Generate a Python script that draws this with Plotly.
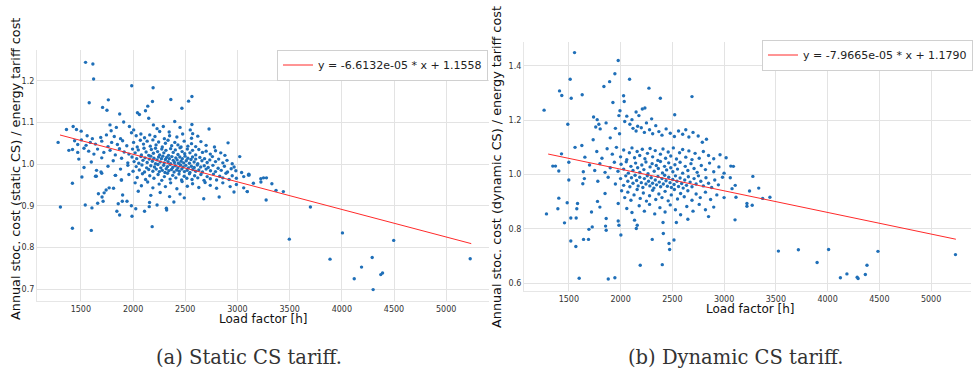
import plotly.graph_objects as go

# ---------------- data ----------------
# Panel (a): static CS tariff  -> (load factor [h], cost ratio)
static_upper = [
    (1545, 1.244), (1615, 1.240), (1622, 1.204), (1987, 1.188), (2192, 1.183),
    (1580, 1.147), (2362, 1.155), (2564, 1.162), (2532, 1.151), (2186, 1.150),
    (1763, 1.154), (1708, 1.136), (1750, 1.129), (2141, 1.139), (2119, 1.128),
    (2468, 1.134), (1872, 1.120), (2042, 1.123), (2061, 1.119), (2150, 1.110),
    (2399, 1.102), (1910, 1.101), (1779, 1.094), (1965, 1.090), (2006, 1.082),
    (2195, 1.094), (2564, 1.095), (2728, 1.084), (2548, 1.082), (2571, 1.073),
    (2346, 1.077), (1362, 1.083), (1426, 1.090), (1458, 1.083), (1503, 1.079),
    (1282, 1.052), (1385, 1.033), (2910, 1.051), (3022, 1.018), (3109, 0.976),
    (1440, 1.056), (1470, 1.047), (1790, 1.080), (1840, 1.088), (2230, 1.085),
    (2290, 1.090), (2450, 1.088),
]
static_core = [
    (1985, 1.075), (2030, 1.068), (2075, 1.072), (2110, 1.063), (2160, 1.070),
    (2210, 1.066), (2255, 1.078), (2300, 1.061), (2350, 1.068), (2420, 1.065),
    (2475, 1.072), (2560, 1.062), (2620, 1.067), (1690, 1.064), (1745, 1.070),
    (1820, 1.066), (1880, 1.061), (1560, 1.068), (1610, 1.061),
    (1505, 1.058), (1550, 1.045), (1590, 1.052), (1640, 1.048), (1700, 1.055),
    (1760, 1.042), (1795, 1.052), (1850, 1.047), (1900, 1.056), (1940, 1.044),
    (2005, 1.052), (2040, 1.041), (2070, 1.057), (2100, 1.048), (2135, 1.055),
    (2165, 1.043), (2190, 1.058), (2220, 1.046), (2245, 1.053), (2280, 1.041),
    (2310, 1.050), (2335, 1.057), (2370, 1.044), (2400, 1.052), (2430, 1.046),
    (2460, 1.041), (2490, 1.055), (2525, 1.043), (2560, 1.049), (2600, 1.042),
    (2650, 1.054), (2700, 1.045), (2780, 1.041),
    (1420, 1.035), (1470, 1.028), (1530, 1.038), (1575, 1.031), (1625, 1.024),
    (1660, 1.036), (1720, 1.028), (1780, 1.033), (1830, 1.022), (1870, 1.037),
    (1915, 1.029), (1960, 1.024), (1995, 1.036), (2020, 1.027), (2050, 1.034),
    (2080, 1.022), (2105, 1.038), (2125, 1.029), (2150, 1.021), (2175, 1.035),
    (2195, 1.026), (2215, 1.038), (2235, 1.030), (2255, 1.022), (2275, 1.036),
    (2295, 1.027), (2315, 1.033), (2340, 1.021), (2360, 1.037), (2385, 1.028),
    (2405, 1.034), (2430, 1.023), (2450, 1.039), (2470, 1.030), (2495, 1.025),
    (2520, 1.036), (2545, 1.027), (2570, 1.033), (2600, 1.022), (2630, 1.035),
    (2665, 1.028), (2700, 1.031), (2740, 1.024), (2790, 1.032), (2840, 1.027),
    (2880, 1.021),
    (1480, 1.012), (1600, 1.005), (1700, 1.015), (1810, 1.008), (1890, 1.014),
    (1950, 1.003), (1990, 1.017), (2010, 1.006), (2035, 1.013), (2055, 1.002),
    (2075, 1.018), (2095, 1.009), (2115, 1.015), (2135, 1.004), (2155, 1.012),
    (2170, 1.019), (2185, 1.007), (2200, 1.014), (2215, 1.001), (2230, 1.010),
    (2245, 1.017), (2260, 1.005), (2272, 1.013), (2285, 1.019), (2298, 1.003),
    (2310, 1.011), (2322, 1.016), (2335, 1.006), (2348, 1.013), (2360, 1.001),
    (2372, 1.018), (2385, 1.009), (2397, 1.004), (2410, 1.015), (2422, 1.010),
    (2435, 1.002), (2448, 1.017), (2460, 1.007), (2472, 1.013), (2485, 1.003),
    (2498, 1.019), (2510, 1.008), (2525, 1.014), (2540, 1.002), (2555, 1.011),
    (2570, 1.017), (2585, 1.005), (2600, 1.012), (2620, 1.001), (2640, 1.016),
    (2660, 1.008), (2685, 1.013), (2710, 1.004), (2735, 1.010), (2760, 1.018),
    (2790, 1.006), (2820, 1.012), (2860, 1.003), (2900, 1.009), (2950, 1.001),
    (2968, 0.993),
    (1530, 0.992), (1650, 0.985), (1760, 0.995), (1880, 0.988), (1950, 0.997),
    (2000, 0.983), (2030, 0.994), (2060, 0.986), (2085, 0.998), (2110, 0.981),
    (2130, 0.991), (2150, 0.987), (2170, 0.996), (2190, 0.983), (2205, 0.993),
    (2222, 0.988), (2238, 0.999), (2252, 0.982), (2266, 0.991), (2280, 0.985),
    (2293, 0.997), (2306, 0.980), (2318, 0.989), (2330, 0.994), (2343, 0.984),
    (2355, 0.999), (2368, 0.987), (2380, 0.992), (2393, 0.981), (2405, 0.996),
    (2418, 0.986), (2430, 0.991), (2443, 0.983), (2455, 0.998), (2467, 0.988),
    (2480, 0.993), (2492, 0.982), (2505, 0.997), (2518, 0.985), (2530, 0.991),
    (2545, 0.980), (2558, 0.995), (2572, 0.987), (2586, 0.992), (2600, 0.983),
    (2615, 0.998), (2630, 0.986), (2648, 0.993), (2665, 0.981), (2682, 0.996),
    (2700, 0.988), (2720, 0.992), (2742, 0.984), (2765, 0.997), (2790, 0.982),
    (2815, 0.990), (2845, 0.985), (2875, 0.995), (2905, 0.981), (2940, 0.989),
    (2985, 0.984), (3040, 0.980),
    (1640, 0.971), (1700, 0.978), (1830, 0.973), (1890, 0.962), (1960, 0.975),
    (2040, 0.968), (2090, 0.977), (2120, 0.963), (2160, 0.972), (2200, 0.966),
    (2240, 0.975), (2275, 0.961), (2300, 0.970), (2330, 0.978), (2355, 0.964),
    (2380, 0.973), (2410, 0.967), (2440, 0.976), (2465, 0.962), (2490, 0.971),
    (2515, 0.966), (2540, 0.977), (2565, 0.963), (2590, 0.972), (2620, 0.967),
    (2650, 0.975), (2680, 0.961), (2710, 0.970), (2740, 0.965), (2770, 0.976),
    (2800, 0.962), (2830, 0.971), (2860, 0.967), (2890, 0.978), (2920, 0.963),
    (2950, 0.972), (2990, 0.966), (3060, 0.970), (3105, 0.974), (3112, 0.974),
    (3153, 0.954), (3225, 0.957), (3250, 0.967), (3278, 0.967), (3224, 0.965),
    (1419, 0.954), (1510, 0.969), (1648, 0.971), (1693, 0.981), (1832, 0.973),
    (1887, 0.962), (2020, 0.955), (2080, 0.948), (2140, 0.957), (2190, 0.943),
    (2250, 0.952), (2310, 0.946), (2360, 0.955), (2420, 0.941), (2470, 0.958),
    (2520, 0.947), (2570, 0.953), (2630, 0.944), (2690, 0.956), (2740, 0.949),
    (2800, 0.942), (2860, 0.955), (2930, 0.946), (2990, 0.951), (3060, 0.943),
    (3094, 0.934),
    (1668, 0.929), (1723, 0.931), (1742, 0.938), (1771, 0.943), (1813, 0.942),
    (1900, 0.926), (2050, 0.935), (2170, 0.925), (2260, 0.932), (2350, 0.922),
    (2450, 0.928), (2491, 0.919), (2677, 0.917), (2825, 0.921), (2967, 0.933),
    (3330, 0.953), (3370, 0.937), (3440, 0.934), (3275, 0.914),
]
static_lower = [
    (1304, 0.897), (1419, 0.846), (1600, 0.841), (2183, 0.850), (1542, 0.902),
    (1606, 0.895), (1661, 0.906), (1713, 0.911), (1703, 0.921), (1845, 0.887),
    (1871, 0.878), (1858, 0.905), (1897, 0.911), (1942, 0.911), (1990, 0.875),
    (1984, 0.900), (2026, 0.893), (2110, 0.887), (2158, 0.908), (2155, 0.898),
    (2230, 0.902), (2319, 0.894), (2322, 0.890), (2391, 0.909), (3094, 0.934),
    (3699, 0.897), (3497, 0.820), (4006, 0.835), (4497, 0.817), (3887, 0.772),
    (4291, 0.776), (4189, 0.753), (4119, 0.725), (4300, 0.699), (4373, 0.735),
    (4390, 0.739), (5230, 0.773),
]

# Panel (b): dynamic CS tariff
dynamic_upper = [
    (1261, 1.237), (1555, 1.449), (1977, 1.420), (1513, 1.351), (1410, 1.308),
    (1432, 1.291), (1523, 1.281), (1629, 1.294), (1945, 1.371), (1894, 1.342),
    (1839, 1.324), (2087, 1.351), (2274, 1.318), (2384, 1.281), (2690, 1.287),
    (1490, 1.185), (2029, 1.290), (2035, 1.269), (1994, 1.235), (1984, 1.217),
    (2110, 1.202), (2177, 1.217), (2210, 1.241), (2235, 1.245), (2523, 1.220),
    (1926, 1.265), (1739, 1.212), (1774, 1.202), (1803, 1.168), (1626, 1.107),
    (1655, 1.064), (1735, 1.128), (1429, 1.076), (1345, 1.031), (1371, 1.031),
    (1403, 1.013), (3065, 1.031), (3090, 1.030), (2790, 1.119), (2961, 1.073),
    (1790, 1.185), (1760, 1.175), (2060, 1.215), (2150, 1.230), (2300, 1.205),
]
dynamic_core = [
    (2040, 1.195), (2090, 1.185), (2120, 1.170), (2150, 1.160), (2165, 1.178),
    (2200, 1.172), (2230, 1.155), (2250, 1.190), (2280, 1.165), (2310, 1.150),
    (2340, 1.180), (2370, 1.158), (2400, 1.145), (2440, 1.168), (2480, 1.152),
    (2520, 1.140), (2560, 1.160), (2600, 1.148), (2630, 1.165), (2660, 1.138),
    (2700, 1.155), (2750, 1.142), (2830, 1.130), (1950, 1.170), (1990, 1.150),
    (1900, 1.135), (1860, 1.190),
    (1560, 1.100), (1770, 1.085), (1820, 1.060), (1870, 1.095), (1920, 1.075),
    (1960, 1.100), (2000, 1.065), (2030, 1.090), (2060, 1.055), (2085, 1.080),
    (2110, 1.098), (2135, 1.062), (2160, 1.085), (2185, 1.070), (2210, 1.093),
    (2235, 1.058), (2260, 1.078), (2285, 1.096), (2310, 1.065), (2335, 1.088),
    (2360, 1.052), (2385, 1.075), (2410, 1.094), (2435, 1.060), (2460, 1.083),
    (2485, 1.068), (2510, 1.098), (2540, 1.057), (2570, 1.080), (2600, 1.092),
    (2630, 1.064), (2660, 1.087), (2690, 1.055), (2720, 1.078), (2760, 1.060),
    (2800, 1.085), (2850, 1.070), (2900, 1.058), (3020, 1.062),
    (1500, 1.045), (1640, 1.010), (1700, 1.035), (1750, 1.015), (1800, 1.040),
    (1850, 1.008), (1900, 1.025), (1940, 1.045), (1975, 1.012), (2005, 1.038),
    (2030, 1.020), (2055, 1.047), (2075, 1.005), (2100, 1.030), (2120, 1.015),
    (2145, 1.042), (2165, 1.025), (2185, 1.008), (2205, 1.035), (2225, 1.018),
    (2245, 1.046), (2265, 1.003), (2285, 1.028), (2305, 1.040), (2325, 1.012),
    (2345, 1.033), (2365, 1.022), (2385, 1.048), (2405, 1.006), (2425, 1.030),
    (2445, 1.017), (2465, 1.043), (2485, 1.025), (2505, 1.010), (2525, 1.036),
    (2550, 1.020), (2575, 1.045), (2600, 1.005), (2625, 1.030), (2650, 1.015),
    (2680, 1.040), (2710, 1.022), (2740, 1.008), (2780, 1.033), (2820, 1.018),
    (2860, 1.042), (2900, 1.010), (2950, 1.028), (3000, 1.005),
    (1500, 0.980), (1650, 0.985), (1780, 0.975), (1880, 0.990), (1950, 0.965),
    (2000, 0.985), (2030, 0.960), (2050, 0.995), (2070, 0.975), (2090, 0.955),
    (2105, 0.988), (2120, 0.968), (2140, 0.997), (2155, 0.978), (2170, 0.958),
    (2185, 0.990), (2200, 0.970), (2215, 0.952), (2230, 0.985), (2245, 0.965),
    (2258, 0.995), (2270, 0.975), (2283, 0.958), (2296, 0.988), (2309, 0.968),
    (2322, 0.950), (2335, 0.980), (2348, 0.962), (2361, 0.993), (2374, 0.972),
    (2387, 0.955), (2400, 0.985), (2413, 0.965), (2426, 0.997), (2439, 0.977),
    (2452, 0.957), (2465, 0.990), (2478, 0.970), (2491, 0.952), (2504, 0.982),
    (2517, 0.963), (2530, 0.995), (2545, 0.975), (2560, 0.956), (2575, 0.987),
    (2590, 0.967), (2605, 0.950), (2620, 0.980), (2637, 0.960), (2655, 0.992),
    (2672, 0.972), (2690, 0.955), (2710, 0.985), (2730, 0.965), (2752, 0.995),
    (2775, 0.975), (2800, 0.958), (2825, 0.988), (2850, 0.968), (2880, 0.952),
    (2910, 0.980), (2945, 0.962), (2985, 0.990), (3060, 0.988), (3108, 0.960),
    (3077, 0.948), (3278, 0.993), (3335, 0.950), (3246, 0.939),
    (1403, 0.913), (1484, 0.896), (1584, 0.893), (1635, 0.966), (1777, 0.901),
    (1850, 0.930), (1977, 0.893), (2010, 0.940), (2040, 0.915), (2070, 0.935),
    (2100, 0.905), (2130, 0.925), (2160, 0.945), (2190, 0.912), (2220, 0.932),
    (2250, 0.902), (2280, 0.922), (2310, 0.942), (2340, 0.908), (2370, 0.928),
    (2400, 0.915), (2430, 0.938), (2460, 0.903), (2490, 0.925), (2520, 0.945),
    (2550, 0.910), (2580, 0.930), (2615, 0.918), (2650, 0.940), (2690, 0.905),
    (2730, 0.928), (2770, 0.915), (2820, 0.935), (2870, 0.908), (2930, 0.925),
    (3000, 0.915), (3115, 0.916), (3373, 0.912), (3443, 0.916),
    (1284, 0.855), (1394, 0.874), (1519, 0.840), (1571, 0.840), (1577, 0.874),
    (1719, 0.862), (1800, 0.880), (1861, 0.838), (1977, 0.829), (2060, 0.875),
    (2135, 0.832), (2110, 0.860), (2180, 0.885), (2230, 0.865), (2280, 0.890),
    (2330, 0.855), (2380, 0.878), (2430, 0.862), (2480, 0.888), (2530, 0.870),
    (2580, 0.852), (2640, 0.882), (2700, 0.865), (2760, 0.890), (2820, 0.870),
    (2900, 0.880), (3221, 0.893), (3221, 0.883), (3272, 0.887),
]
dynamic_lower = [
    (1458, 0.822), (1519, 0.755), (1568, 0.735), (1600, 0.618), (1642, 0.761),
    (1690, 0.761), (1694, 0.798), (1726, 0.807), (1855, 0.810), (1861, 0.795),
    (1881, 0.615), (1945, 0.620), (1984, 0.813), (2003, 0.777), (2152, 0.801),
    (2161, 0.813), (2190, 0.666), (2306, 0.761), (2403, 0.668), (2410, 0.823),
    (2413, 0.783), (2468, 0.746), (2474, 0.724), (2516, 0.759), (2539, 0.823),
    (3106, 0.833), (2650, 0.835), (2850, 0.845),
    (3525, 0.718), (3718, 0.723), (4010, 0.724), (3899, 0.676), (4487, 0.717),
    (4187, 0.634), (4124, 0.620), (4286, 0.622), (4295, 0.617), (4365, 0.632),
    (4381, 0.666), (5236, 0.705),
]

static_fit_x = [1300, 5240]
static_fit_y = [1.0698, 0.8093]
static_fit_label = "y = -6.6132e-05 * x + 1.1558"
dynamic_fit_x = [1300, 5240]
dynamic_fit_y = [1.0754, 0.7616]
dynamic_fit_label = "y = -7.9665e-05 * x + 1.1790"

x_ticks = [1500, 2000, 2500, 3000, 3500, 4000, 4500, 5000]
static_y_ticks = [0.7, 0.8, 0.9, 1.0, 1.1, 1.2]
dynamic_y_ticks = [0.6, 0.8, 1.0, 1.2, 1.4]

x_title = "Load factor [h]"
static_y_title = "Annual stoc. cost (static CS) / energy tariff cost"
dynamic_y_title = "Annual stoc. cost (dynamic CS) / energy tariff cost"
captions = ["(a) Static CS tariff.", "(b) Dynamic CS tariff."]

# ---------------- figure ----------------
W, H = 973, 371
BLUE = "#1f6fb8"
GRID = "#e3e3e3"
TICKFONT = dict(family="DejaVu Sans", size=8, color="#333333")


def unzip(*groups):
    xs, ys = [], []
    for g in groups:
        for x, y in g:
            xs.append(x)
            ys.append(y)
    return xs, ys


sx, sy = unzip(static_upper, static_core, static_lower)
dx, dy = unzip(dynamic_upper, dynamic_core, dynamic_lower)

fig = go.Figure()
fig.add_trace(go.Scatter(x=sx, y=sy, mode="markers", xaxis="x", yaxis="y",
                         marker=dict(size=3.4, color=BLUE, line=dict(width=0)),
                         showlegend=False))
fig.add_trace(go.Scatter(x=static_fit_x, y=static_fit_y, mode="lines",
                         xaxis="x", yaxis="y", name=static_fit_label,
                         line=dict(color="#ff2a2a", width=1), legend="legend"))
fig.add_trace(go.Scatter(x=dx, y=dy, mode="markers", xaxis="x2", yaxis="y2",
                         marker=dict(size=3.4, color=BLUE, line=dict(width=0)),
                         showlegend=False))
fig.add_trace(go.Scatter(x=dynamic_fit_x, y=dynamic_fit_y, mode="lines",
                         xaxis="x2", yaxis="y2", name=dynamic_fit_label,
                         line=dict(color="#ff2a2a", width=1), legend="legend2"))


def px_x(p):
    return p / W


def px_y(p):
    return 1 - p / H


axis_common = dict(showgrid=True, gridcolor=GRID, gridwidth=1, zeroline=False,
                   showline=True, linecolor="#e6e6e6", linewidth=1,
                   ticks="", tickfont=TICKFONT, mirror=False)

legend_font = dict(family="DejaVu Sans", size=11, color="#222222")

fig.update_layout(
    width=W, height=H, margin=dict(l=0, r=0, t=0, b=0),
    paper_bgcolor="white", plot_bgcolor="white",
    xaxis=dict(domain=[px_x(37), px_x(490)], range=[1079, 5410],
               tickvals=x_ticks, anchor="y", **axis_common),
    yaxis=dict(domain=[px_y(301), px_y(50)], range=[0.6717, 1.2736],
               tickvals=static_y_ticks, tickformat=".1f", anchor="x", **axis_common),
    xaxis2=dict(domain=[px_x(525), 1.0], range=[1066, 5386],
                tickvals=x_ticks, anchor="y2", **axis_common),
    yaxis2=dict(domain=[px_y(291), px_y(42)], range=[0.571, 1.488],
                tickvals=dynamic_y_ticks, tickformat=".1f", anchor="x2", **axis_common),
    legend=dict(x=px_x(489), y=px_y(65), xanchor="right", yanchor="middle",
                bgcolor="white", bordercolor="#d0d0d0", borderwidth=1,
                font=legend_font, itemwidth=30, tracegroupgap=0),
    legend2=dict(x=px_x(975), y=px_y(55), xanchor="right", yanchor="middle",
                 bgcolor="white", bordercolor="#d0d0d0", borderwidth=1,
                 font=legend_font, itemwidth=30, tracegroupgap=0),
)

title_font = dict(family="DejaVu Sans", size=12, color="#111111")
ytitle_font = dict(family="DejaVu Sans", size=12.8, color="#111111")
caption_font = dict(family="DejaVu Serif", size=19.5, color="#333333")
ann = [
    dict(text=x_title, x=px_x(264), y=px_y(319), showarrow=False, font=title_font,
         xanchor="center", yanchor="middle"),
    dict(text=x_title, x=px_x(752), y=px_y(309), showarrow=False, font=title_font,
         xanchor="center", yanchor="middle"),
    dict(text=static_y_title, x=px_x(15), y=px_y(169), showarrow=False, font=ytitle_font,
         textangle=-90, xanchor="center", yanchor="middle"),
    dict(text=dynamic_y_title, x=px_x(497), y=px_y(167), showarrow=False, font=ytitle_font,
         textangle=-90, xanchor="center", yanchor="middle"),
    dict(text=captions[0], x=px_x(250), y=px_y(357), showarrow=False,
         font=caption_font, xanchor="center", yanchor="middle"),
    dict(text=captions[1], x=px_x(737), y=px_y(357), showarrow=False,
         font=caption_font, xanchor="center", yanchor="middle"),
]
for a in ann:
    a["xref"] = "paper"
    a["yref"] = "paper"
fig.update_layout(annotations=ann)

fig.write_html("out.html")
